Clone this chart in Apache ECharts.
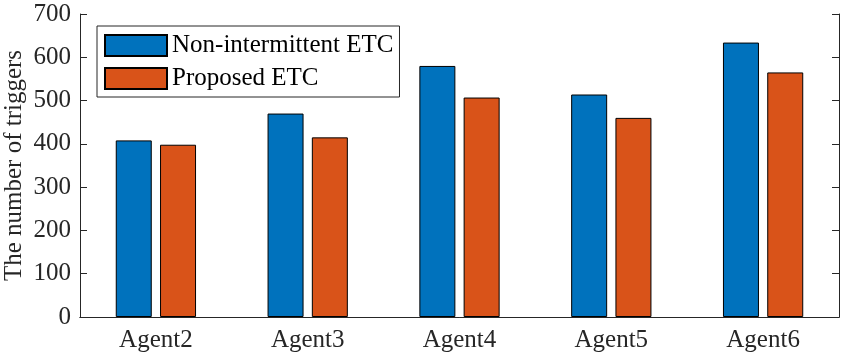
<!DOCTYPE html>
<html>
<head>
<meta charset="utf-8">
<script src="https://cdn.jsdelivr.net/npm/echarts@6/dist/echarts.min.js"></script>
<style>
  html, body { margin: 0; padding: 0; background: #fff; }
  #chart { width: 856px; height: 354px; }
</style>
</head>
<body>
<div id="chart"></div>
<script>
// categories and values
const agents = ['Agent2', 'Agent3', 'Agent4', 'Agent5', 'Agent6'];
const nonIntermittent = [408, 470, 580, 514, 634];
const proposed = [398, 415, 507, 460, 565];
const yTicks = [0, 100, 200, 300, 400, 500, 600, 700];

const font = '"Liberation Serif", "Times New Roman", serif';
const ink = '#262626';
const fs = 25;

const chart = echarts.init(document.getElementById('chart'));

const lineStyle = { color: ink, width: 1 };

chart.setOption({
  animation: false,
  textStyle: { fontFamily: font },
  grid: { left: 80, right: 17, top: 14, bottom: 37, outerBoundsMode: 'none' },
  legend: {
    orient: 'vertical',
    left: 97,
    top: 26,
    padding: [7, 6, 6, 7],
    borderColor: ink,
    borderWidth: 1,
    icon: 'rect',
    itemWidth: 62,
    itemHeight: 21,
    itemGap: 8,
    textStyle: { fontFamily: font, fontSize: fs, color: '#000', lineHeight: 21 },
    data: ['Non-intermittent ETC', 'Proposed ETC']
  },
  xAxis: [
    {
      type: 'category',
      data: agents,
      axisLine: { lineStyle },
      axisTick: { inside: true, length: 7, alignWithLabel: true, lineStyle },
      axisLabel: { fontFamily: font, fontSize: fs, color: ink, margin: 11 }
    },
    {
      type: 'category',
      data: agents,
      position: 'top',
      axisLine: { lineStyle },
      axisTick: { inside: true, length: 7, alignWithLabel: true, lineStyle },
      axisLabel: { show: false }
    }
  ],
  yAxis: [
    {
      type: 'value',
      min: yTicks[0],
      max: yTicks[yTicks.length - 1],
      interval: 100,
      name: 'The number of triggers',
      nameLocation: 'middle',
      nameGap: 53,
      nameMoveOverlap: false,
      nameTextStyle: { fontFamily: font, fontSize: fs, color: ink },
      axisLine: { show: true, lineStyle },
      axisTick: { show: true, inside: true, length: 7, lineStyle },
      axisLabel: { fontFamily: font, fontSize: fs, color: ink, margin: 9 },
      splitLine: { show: false }
    },
    {
      type: 'value',
      min: yTicks[0],
      max: yTicks[yTicks.length - 1],
      interval: 100,
      position: 'right',
      axisLine: { show: true, lineStyle },
      axisTick: { show: true, inside: true, length: 7, lineStyle },
      axisLabel: { show: false },
      splitLine: { show: false }
    }
  ],
  series: [
    {
      name: 'Non-intermittent ETC',
      type: 'bar',
      data: nonIntermittent,
      barWidth: 36,
      barGap: '23%',
      itemStyle: { color: '#0072BD', borderColor: '#000', borderWidth: 1 }
    },
    {
      name: 'Proposed ETC',
      type: 'bar',
      data: proposed,
      barWidth: 36,
      barGap: '23%',
      itemStyle: { color: '#D95319', borderColor: '#000', borderWidth: 1 }
    }
  ]
});
</script>
</body>
</html>
